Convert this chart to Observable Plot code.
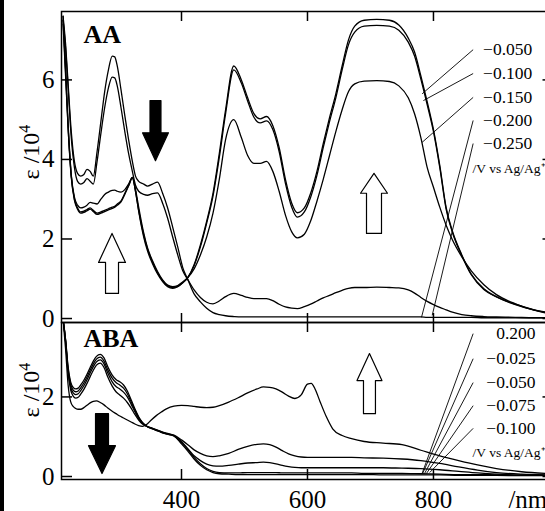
<!DOCTYPE html>
<html><head><meta charset="utf-8">
<script src="https://cdn.jsdelivr.net/npm/d3@7"></script>
<script src="https://cdn.jsdelivr.net/npm/@observablehq/plot@0.6"></script>
<style>
body{margin:0;background:#fff;}
#wrap{position:relative;width:545px;height:511px;overflow:hidden;background:#fff;font-family:"Liberation Serif","Times New Roman",serif;}
#wrap svg{position:absolute;left:0;}
.ylab{position:absolute;font-size:24px;line-height:1;white-space:nowrap;transform:translate(-50%,-50%) rotate(-90deg);}
.ylab sup{font-size:16px;vertical-align:9px;line-height:0;}
#strip{position:absolute;left:0;top:0;width:4px;height:511px;background:#000;}
</style></head>
<body><div id="wrap"><div id="strip"></div></div>
<script>
// ---------- DATA: panel AA (wavelength / nm, epsilon / 10^4) ----------
const wlA = [212,216,220,225,230,235,240,245,250,255,
  260,266,272,278,284,290,294,298,304,310,
  316,322,327,332,340,346,354,362,370,378,
  386,394,402,410,420,430,440,450,460,470,
  483,495,505,515,525,535,545,555,565,575,
  584,595,605,615,625,635,645,655,665,675,
  690,710,730,745,760,770,780,790,800,810,
  820,830,845,860,880,900,930,960,985];
const aa_m050 = [7.6,6.3,4.9,3.6,3.0,2.78,2.68,2.7,2.74,2.78,
  2.72,2.65,2.68,2.72,2.76,2.8,2.82,2.88,2.96,3.15,
  3.35,3.55,3.2,2.7,2.05,1.7,1.38,1.12,0.93,0.8,
  0.76,0.8,0.9,1.03,1.35,1.85,2.45,3.15,4.15,5.25,
  6.35,6.0,5.55,5.15,5.02,5.08,4.85,4.3,3.5,2.9,
  2.66,2.78,3.15,3.7,4.4,5.05,5.65,6.35,7.0,7.35,
  7.5,7.52,7.5,7.38,7.05,6.7,6.1,5.45,4.75,3.85,
  2.8,2.2,1.6,1.12,0.75,0.55,0.36,0.22,0.14];
const aa_m100 = [7.5,6.2,4.8,3.55,2.98,2.75,2.65,2.67,2.71,2.75,
  2.69,2.62,2.65,2.69,2.73,2.77,2.8,2.85,2.93,3.12,
  3.33,3.53,3.2,2.72,2.1,1.75,1.42,1.15,0.95,0.82,
  0.78,0.81,0.9,1.03,1.33,1.8,2.4,3.08,4.05,5.15,
  6.25,5.92,5.47,5.06,4.92,4.97,4.75,4.2,3.4,2.8,
  2.55,2.68,3.05,3.6,4.3,4.95,5.55,6.25,6.88,7.2,
  7.35,7.37,7.35,7.25,6.95,6.6,6.02,5.38,4.7,3.8,
  2.76,2.17,1.58,1.1,0.73,0.54,0.35,0.21,0.13];
const aa_m150 = [7.4,6.1,4.8,3.6,3.05,2.85,2.78,2.8,2.85,2.92,
  2.9,2.88,3.0,3.12,3.18,3.22,3.23,3.2,3.18,3.24,
  3.38,3.55,3.25,2.8,2.15,1.78,1.45,1.18,0.97,0.84,
  0.8,0.83,0.92,1.03,1.25,1.6,2.05,2.65,3.5,4.5,
  5.0,4.55,4.1,3.9,3.9,3.95,3.7,3.2,2.6,2.18,
  2.03,2.12,2.45,2.95,3.5,4.1,4.7,5.25,5.7,5.9,
  5.97,5.98,5.96,5.85,5.55,5.15,4.55,3.8,3.3,2.8,
  2.35,1.98,1.55,1.2,0.85,0.6,0.37,0.21,0.12];
const aa_m200 = [7.5,6.8,5.8,4.55,3.8,3.45,3.38,3.42,3.52,3.45,
  3.38,3.95,4.65,5.3,5.8,6.07,6.05,5.85,5.3,4.7,
  4.15,3.7,3.35,3.2,3.12,3.1,3.14,3.16,2.9,2.52,
  2.05,1.6,1.2,0.98,0.72,0.53,0.41,0.37,0.44,0.55,
  0.63,0.58,0.53,0.5,0.5,0.5,0.45,0.36,0.29,0.26,
  0.25,0.3,0.36,0.44,0.52,0.58,0.65,0.71,0.76,0.78,
  0.78,0.79,0.78,0.77,0.72,0.64,0.53,0.43,0.35,0.28,
  0.22,0.16,0.1,0.07,0.05,0.04,0.03,0.02,0.02];
const aa_m250 = [7.6,6.9,5.9,4.7,3.95,3.65,3.58,3.62,3.75,3.7,
  3.58,4.2,4.95,5.7,6.25,6.6,6.58,6.35,5.75,5.1,
  4.5,3.95,3.58,3.45,3.38,3.33,3.38,3.43,3.15,2.78,
  2.3,1.8,1.28,0.98,0.62,0.42,0.26,0.15,0.1,0.07,
  0.05,0.04,0.04,0.04,0.04,0.04,0.04,0.04,0.04,0.04,
  0.04,0.04,0.04,0.04,0.04,0.04,0.04,0.04,0.04,0.04,
  0.04,0.04,0.04,0.04,0.04,0.04,0.04,0.03,0.03,0.03,
  0.03,0.03,0.03,0.03,0.02,0.02,0.02,0.02,0.02];

// ---------- DATA: panel ABA ----------
const wlB = [212,216,220,224,228,232,236,240,245,250,
  255,260,265,271,277,283,290,296,302,308,
  314,320,326,332,338,344,352,360,368,376,
  388,400,410,420,430,440,450,460,475,490,
  505,520,530,540,550,560,570,580,590,600,
  606,612,620,630,640,655,670,690,720,750,
  780,810,840,870,900,940,985];
const aba_p200 = [3.95,3.2,2.3,1.88,1.76,1.71,1.69,1.69,1.73,1.79,
  1.85,1.89,1.9,1.86,1.8,1.72,1.64,1.58,1.52,1.47,
  1.42,1.37,1.32,1.28,1.26,1.3,1.42,1.53,1.62,1.7,
  1.77,1.79,1.78,1.76,1.74,1.73,1.74,1.78,1.87,1.98,
  2.1,2.2,2.25,2.24,2.2,2.12,2.02,1.96,2.05,2.32,
  2.34,2.2,1.88,1.5,1.2,1.03,0.95,0.88,0.84,0.8,
  0.66,0.52,0.4,0.29,0.2,0.12,0.07];
const aba_m025 = [3.95,3.38,2.6,2.18,2.02,1.97,1.99,2.07,2.19,2.34,
  2.51,2.67,2.8,2.85,2.74,2.5,2.27,2.13,2.05,1.97,
  1.86,1.72,1.56,1.42,1.32,1.27,1.22,1.18,1.13,1.09,
  1.04,0.92,0.8,0.67,0.58,0.52,0.5,0.52,0.58,0.68,
  0.76,0.81,0.82,0.8,0.74,0.65,0.57,0.52,0.49,0.48,
  0.48,0.48,0.48,0.48,0.48,0.48,0.48,0.47,0.46,0.44,
  0.4,0.33,0.24,0.16,0.1,0.06,0.04];
const aba_m050 = [3.95,3.4,2.65,2.25,2.1,2.06,2.08,2.16,2.28,2.43,
  2.6,2.76,2.88,2.93,2.83,2.6,2.38,2.26,2.2,2.12,
  2.0,1.82,1.63,1.46,1.34,1.27,1.22,1.17,1.12,1.08,
  1.03,0.88,0.7,0.52,0.4,0.31,0.27,0.26,0.28,0.31,
  0.34,0.35,0.36,0.35,0.32,0.28,0.25,0.23,0.22,0.22,
  0.22,0.22,0.22,0.22,0.22,0.22,0.22,0.22,0.22,0.21,
  0.2,0.17,0.13,0.09,0.06,0.04,0.03];
const aba_m075 = [3.95,3.42,2.7,2.32,2.17,2.13,2.15,2.23,2.35,2.5,
  2.67,2.83,2.95,3.0,2.9,2.68,2.47,2.36,2.3,2.22,
  2.08,1.88,1.67,1.48,1.35,1.27,1.21,1.16,1.11,1.07,
  1.02,0.85,0.68,0.48,0.32,0.2,0.13,0.1,0.09,0.09,
  0.1,0.1,0.1,0.1,0.1,0.09,0.09,0.09,0.09,0.09,
  0.09,0.09,0.09,0.09,0.09,0.09,0.09,0.08,0.08,0.08,
  0.07,0.06,0.05,0.05,0.04,0.03,0.03];
const aba_m100 = [3.95,3.45,2.75,2.38,2.24,2.2,2.22,2.3,2.42,2.57,
  2.74,2.9,3.02,3.07,2.98,2.76,2.55,2.44,2.38,2.3,
  2.15,1.93,1.7,1.5,1.36,1.27,1.21,1.16,1.11,1.07,
  1.02,0.82,0.64,0.44,0.28,0.17,0.1,0.07,0.06,0.05,
  0.05,0.05,0.05,0.05,0.05,0.05,0.05,0.05,0.05,0.05,
  0.05,0.05,0.05,0.05,0.05,0.05,0.05,0.05,0.04,0.04,
  0.04,0.04,0.03,0.03,0.03,0.02,0.02];

// ---------- labels, ticks, annotations ----------
const xTicks = [400, 600, 800];
const yTicksA = [0, 2, 4, 6];
const yTicksB = [0, 2];
const seriesNamesA = ["−0.050", "−0.100", "−0.150", "−0.200", "−0.250"];
const seriesNamesB = ["0.200", "−0.025", "−0.050", "−0.075", "−0.100"];
const unitLabel = "/V vs Ag/Ag⁺";
// label anchor (nm, eps) and leader-line ends (nm, eps)
const labelXA = 957, labelYA = [6.76, 6.16, 5.56, 4.98, 4.4];
const leadStartXA = 863, leadEndXA = [782, 784, 782, 781, 798], leadEndYA = [5.65, 5.48, 4.43, 0.03, 0.08];
const labelXB = 962, labelYB = [3.59, 2.96, 2.36, 1.78, 1.21];
const leadStartXB = 863, leadEndXB = [782, 783, 786, 789, 794], leadEndYB = [0.08, 0.08, 0.08, 0.08, 0.1];
const unitPosA = [862, 3.77], unitPosB = [862, 0.6];
// block arrows: centre nm, tail, tip, shaft half-width nm, head half-width nm, head length (eps), fill
const arrowsA = [[358.7, 5.48, 3.97, 8.7, 20.6, 0.70, "black"], [289.7, 0.63, 2.14, 10.3, 21.4, 0.73, "white"], [705.6, 2.14, 3.65, 11.9, 21.4, 0.50, "white"]];
const arrowsB = [[273.8, 1.58, 0.075, 10.3, 21.4, 0.70, "black"], [698.4, 1.58, 3.09, 9.5, 19.8, 0.68, "white"]];

const F = '"Liberation Serif","Times New Roman",serif';
const xDomain = [209.5, 985];

function rows(wl, names, arrays) {
  const out = [];
  arrays.forEach((arr, i) => arr.forEach((v, j) => out.push({wl: wl[j], v, s: names[i]})));
  return out;
}
function arrowShape([cx, tail, tip, sh, hh, hl]) {
  const s = tip > tail ? 1 : -1, base = tip - s * hl;
  return [[cx - sh, tail], [cx - sh, base], [cx - hh, base], [cx, tip], [cx + hh, base], [cx + sh, base], [cx + sh, tail]];
}
function arrowMarks(list) {
  return list.map(a => Plot.line(arrowShape(a), {curve: "linear-closed", fill: a[6], stroke: "black", strokeWidth: 1.2}));
}
function leaders(sx, ys, ex, ey) {
  return ys.map((y, i) => ({x1: sx, y1: y, x2: ex[i], y2: ey[i]}));
}
const intFmt = d => String(d);
function frameMarks(yTicks, bottomLabels) {
  return [
    Plot.frame({strokeWidth: 1.5}),
    Plot.axisY({anchor: "left", ticks: yTicks, tickSize: -11, tickPadding: 18, tickFormat: intFmt, strokeWidth: 1.5, fontSize: 25, label: null}),
    Plot.axisY({anchor: "right", ticks: yTicks, tickSize: -8, tickFormat: () => "", strokeWidth: 1.5, label: null}),
    Plot.axisX({anchor: "top", ticks: xTicks, tickSize: -9, tickFormat: () => "", strokeWidth: 1.5, label: null}),
    bottomLabels
      ? Plot.axisX({anchor: "bottom", ticks: xTicks, tickSize: -10, tickPadding: 21, tickFormat: intFmt, strokeWidth: 1.5, fontSize: 25, label: null})
      : Plot.axisX({anchor: "bottom", ticks: xTicks, tickSize: -9, tickFormat: () => "", strokeWidth: 1.5, label: null})
  ];
}
const styleOpt = {fontFamily: F, fontSize: "25px", background: "transparent", overflow: "visible", maxWidth: "none", color: "black"};

const rowsA = rows(wlA, seriesNamesA, [aa_m050, aa_m100, aa_m150, aa_m200, aa_m250]);
const plotA = Plot.plot({
  width: 560, height: 323, marginLeft: 61, marginRight: 10.5, marginTop: 11, marginBottom: 1,
  style: styleOpt,
  x: {domain: xDomain}, y: {domain: [-0.1, 7.72]},
  marks: [
    ...frameMarks(yTicksA, false),
    Plot.line(rowsA, {x: "wl", y: "v", z: "s", stroke: "black", strokeWidth: 1.3, curve: "monotone-x", clip: true}),
    ...arrowMarks(arrowsA),
    Plot.link(leaders(leadStartXA, labelYA, leadEndXA, leadEndYA), {x1: "x1", y1: "y1", x2: "x2", y2: "y2", stroke: "black", strokeWidth: 0.9}),
    Plot.text(seriesNamesA.map((t, i) => ({t, y: labelYA[i]})), {x: () => labelXA, y: "y", text: "t", textAnchor: "end", fontSize: 17.5, fill: "black"}),
    Plot.text([unitLabel], {x: () => unitPosA[0], y: () => unitPosA[1], text: d => d, textAnchor: "start", fontSize: 13.5, fill: "black"}),
    Plot.text(["AA"], {text: d => d, frameAnchor: "top-left", dx: 22, dy: 13, textAnchor: "start", lineAnchor: "top", fontWeight: "bold", fontSize: 26, fill: "black"})
  ]
});
plotA.style.top = "0px";

const rowsB = rows(wlB, seriesNamesB, [aba_p200, aba_m025, aba_m050, aba_m075, aba_m100]);
const plotB = Plot.plot({
  width: 560, height: 189, marginLeft: 61, marginRight: 10.5, marginTop: 0, marginBottom: 32,
  style: styleOpt,
  x: {domain: xDomain}, y: {domain: [-0.075, 3.87]},
  marks: [
    ...frameMarks(yTicksB, true),
    Plot.line(rowsB, {x: "wl", y: "v", z: "s", stroke: "black", strokeWidth: 1.3, curve: "monotone-x", clip: true}),
    ...arrowMarks(arrowsB),
    Plot.link(leaders(leadStartXB, labelYB, leadEndXB, leadEndYB), {x1: "x1", y1: "y1", x2: "x2", y2: "y2", stroke: "black", strokeWidth: 0.9}),
    Plot.text(seriesNamesB.map((t, i) => ({t, y: labelYB[i]})), {x: () => labelXB, y: "y", text: "t", textAnchor: "end", fontSize: 17.5, fill: "black"}),
    Plot.text([unitLabel], {x: () => unitPosB[0], y: () => unitPosB[1], text: d => d, textAnchor: "start", fontSize: 13.5, fill: "black"}),
    Plot.text(["ABA"], {text: d => d, frameAnchor: "top-left", dx: 22, dy: 6, textAnchor: "start", lineAnchor: "top", fontWeight: "bold", fontSize: 26, fill: "black"}),
    Plot.text(["/nm"], {text: d => d, x: () => 919, frameAnchor: "bottom", dy: 20, textAnchor: "start", lineAnchor: "middle", fontSize: 25, fill: "black"})
  ]
});
plotB.style.top = "322px";

const wrap = document.getElementById("wrap");
wrap.appendChild(plotA);
wrap.appendChild(plotB);
[["152px"], ["390px"]].forEach(([top]) => {
  const d = document.createElement("div");
  d.className = "ylab";
  d.style.left = "31px";
  d.style.top = top;
  d.innerHTML = "ε /10<sup>4</sup>";
  wrap.appendChild(d);
});
</script></body></html>
